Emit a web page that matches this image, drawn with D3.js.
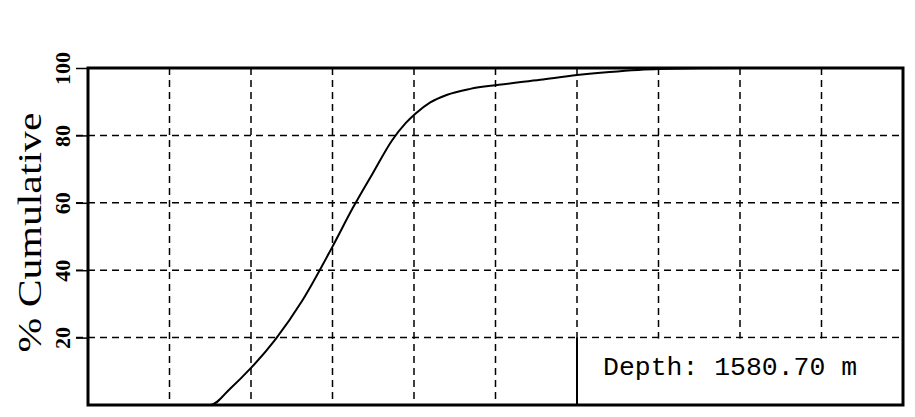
<!DOCTYPE html>
<html>
<head>
<meta charset="utf-8">
<script src="https://cdn.jsdelivr.net/npm/d3@7"></script>
<style>
  html, body { margin: 0; padding: 0; background: #fff; }
  svg { display: block; }
</style>
</head>
<body>
<svg id="chart" width="915" height="417"></svg>
<script>
// ---- data ----
const xUnits = [0, 1.2, 1.5, 1.75, 2.0, 2.3, 2.63, 3.0, 3.25, 3.5, 3.73, 3.9, 4.02, 4.2, 4.4, 4.69, 5.04, 5.55, 6.0, 6.4, 7.0, 8.0, 10];
const cumPct = [0, 0, 0, 5.0, 11.0, 19.5, 31.0, 47.0, 58.5, 69.0, 78.5, 83.7, 86.5, 89.8, 92.0, 93.8, 95.0, 96.5, 97.9, 98.8, 99.7, 100, 100];
const yTicks = [20, 40, 60, 80, 100];
const xGrid = [1, 2, 3, 4, 5, 6, 7, 8, 9];
const yLabel = "% Cumulative";
const depthLabel = "Depth: 1580.70 m";

// ---- layout ----
const svg = d3.select("#chart");
const L = 88, R = 903, T = 68, B = 405;
const x = d3.scaleLinear().domain([0, 10]).range([L, R]);
const y = d3.scaleLinear().domain([0, 100]).range([B, T]);

// grid
const grid = svg.append("g").attr("stroke", "#000").attr("stroke-width", 1.5)
  .attr("stroke-dasharray", "7,5").attr("fill", "none");
grid.selectAll("line.v").data(xGrid).join("line").attr("class", "v")
  .attr("x1", d => x(d)).attr("x2", d => x(d)).attr("y1", T).attr("y2", B);
grid.selectAll("line.h").data(yTicks.filter(d => d < 100)).join("line").attr("class", "h")
  .attr("x1", L - 12).attr("x2", R).attr("y1", d => y(d)).attr("y2", d => y(d));

// curve
const line = d3.line().x((d, i) => x(xUnits[i])).y(d => y(d)).curve(d3.curveMonotoneX);
svg.append("path").datum(cumPct).attr("d", line)
  .attr("fill", "none").attr("stroke", "#000").attr("stroke-width", 2);

// depth box
svg.append("rect").attr("x", x(6)).attr("y", y(20) + 1).attr("width", R - x(6)).attr("height", B - y(20) - 1)
  .attr("fill", "#fff");
svg.append("line").attr("x1", x(6)).attr("x2", x(6)).attr("y1", y(20)).attr("y2", B)
  .attr("stroke", "#000").attr("stroke-width", 2);
svg.append("text").attr("x", 603).attr("y", 375)
  .attr("font-family", "'Liberation Mono', 'DejaVu Sans Mono', monospace")
  .attr("font-size", 26).attr("fill", "#000")
  .attr("textLength", 254).attr("lengthAdjust", "spacingAndGlyphs")
  .text(depthLabel);

// frame
svg.append("rect").attr("x", L).attr("y", T).attr("width", R - L).attr("height", B - T)
  .attr("fill", "none").attr("stroke", "#000").attr("stroke-width", 3);

// left axis
const yAxis = d3.axisLeft(y).tickValues(yTicks).tickSize(12).tickFormat(d3.format("d"));
const ga = svg.append("g").attr("transform", `translate(${L},0)`).call(yAxis);
ga.select(".domain").remove();
ga.selectAll(".tick line").attr("stroke", "#000").attr("stroke-width", 1.5);
ga.selectAll(".tick text").remove();
ga.selectAll(".tick").append("text")
  .attr("transform", "translate(-26,0) rotate(-90)")
  .attr("text-anchor", "middle").attr("dy", "0.35em")
  .attr("font-family", "'Liberation Serif', 'DejaVu Serif', serif")
  .attr("font-size", 22).attr("font-weight", "bold").attr("fill", "#000")
  .text(d => d);

// y label
svg.append("text")
  .attr("transform", `translate(41,${(112 + 353) / 2}) rotate(-90)`)
  .attr("text-anchor", "middle")
  .attr("font-family", "'Liberation Serif', 'DejaVu Serif', serif")
  .attr("font-size", 34).attr("fill", "#000")
  .attr("textLength", 240).attr("lengthAdjust", "spacingAndGlyphs")
  .text(yLabel);
</script>
</body>
</html>
